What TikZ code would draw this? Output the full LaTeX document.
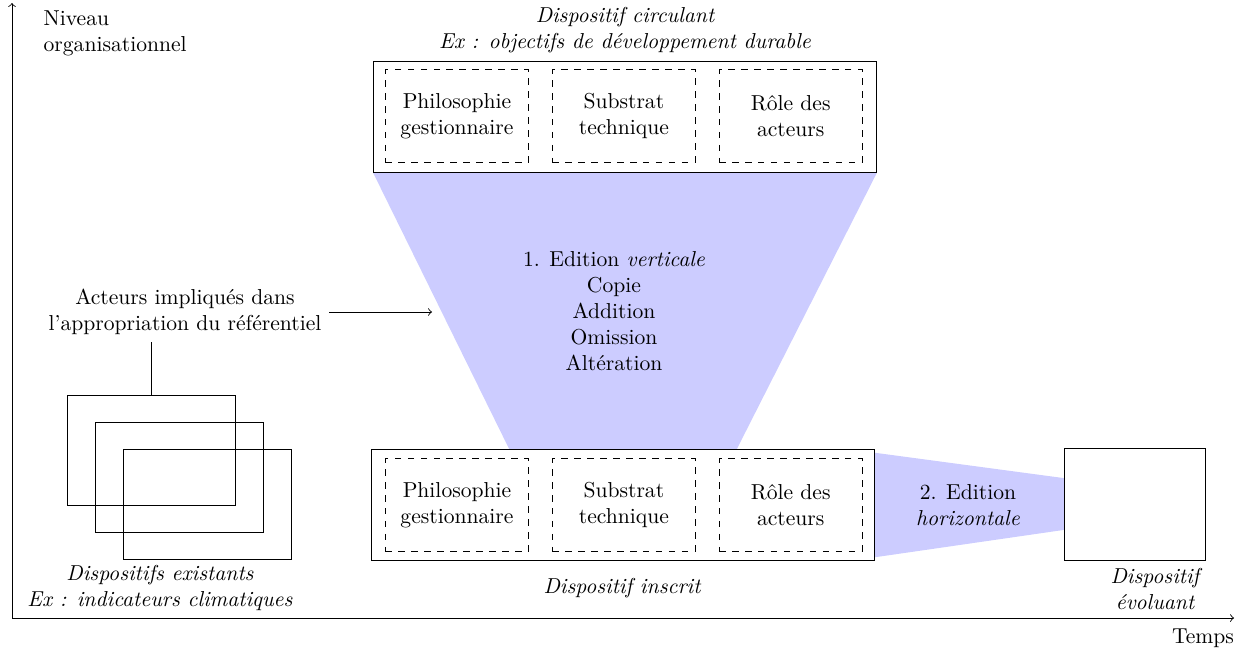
\documentclass[tikz,border=0pt]{standalone}
\usepackage{fontspec}
\usepackage{tikz}
\usetikzlibrary{positioning,backgrounds}

\tikzset{
  outerbox/.style={draw, minimum width=8.18cm, minimum height=1.8cm},
  part/.style={draw, dashed, align=center, minimum width=2.33cm, minimum height=1.5cm},
  oldbox/.style={draw, minimum width=2.72cm, minimum height=1.79cm},
  edition/.style={fill=blue!20},
  caption/.style={align=center, font=\itshape}
}

\begin{document}
\begin{tikzpicture}[x=0.01627cm, y=-0.01627cm]
      \useasboundingbox (0,0) rectangle (1236,654);
      %% Axes
      \coordinate (o) at (12,618);
      \coordinate (ytop) at (12,3);
      \coordinate (xend) at (1234,618);
      \draw[->] (o) -- (ytop);
      \draw[->] (o) -- (xend);
      \node[anchor=west, align=left] (niveau) at (36,33) {Niveau\\organisationnel};
      \node (temps) at (1203,638) {Temps};
      %% Dispositif circulant
      \node[caption] (circlbl) at (625,30) {Dispositif circulant\\Ex : objectifs de développement durable};
      \node[outerbox] (circ) at (625,117) {};
      \node[part] (c1) at (457,116) {Philosophie\\gestionnaire};
      \node[part, right=0.37cm of c1] (c2) {Substrat\\technique};
      \node[part, right=0.37cm of c2] (c3) {Rôle des\\acteurs};
      %% Dispositif inscrit
      \node[outerbox] (inscrit) at (623,505) {};
      \node[part] (i1) at (457,505) {Philosophie\\gestionnaire};
      \node[part, right=0.37cm of i1] (i2) {Substrat\\technique};
      \node[part, right=0.37cm of i2] (i3) {Rôle des\\acteurs};
      \node[caption] (inslbl) at (622,588) {Dispositif inscrit};
      %% Dispositif evoluant
      \node[draw, minimum width=2.28cm, minimum height=1.82cm] (evol) at (1135,504) {};
      \node[caption] (evollbl) at (1155,589) {Dispositif\\évoluant};
      %% Editions
      \begin{scope}[on background layer]
        \fill[edition] (circ.south west) -- (circ.south east)
          -- ([xshift=1.85cm]inscrit.north) -- ([xshift=-1.85cm]inscrit.north) -- cycle;
        \fill[edition] ([yshift=0.85cm]inscrit.east) -- ([yshift=0.42cm]evol.west)
          -- ([yshift=-0.42cm]evol.west) -- ([yshift=-0.85cm]inscrit.east) -- cycle;
      \end{scope}
      \node[align=center] (vert) at (614,311) {1. Edition \textit{verticale}\\Copie\\Addition\\Omission\\Altération};
      \node[align=center] (horiz) at (968,505) {2. Edition\\\textit{horizontale}};
      %% Dispositifs existants
      \node[oldbox] (e1) at (151.5,450) {};
      \node[oldbox] (e2) at (179.5,477) {};
      \node[oldbox] (e3) at (207.5,504.5) {};
      \node[caption] (exlbl) at (160,588) {Dispositifs existants\\Ex : indicateurs climatiques};
      %% Acteurs
      \node[align=center] (acteurs) at (185,312) {Acteurs impliqués dans\\l'appropriation du référentiel};
      \coordinate (acteursend) at (432,312);
      \draw[->] (acteurs.east) -- (acteursend);
      \draw (acteurs.south -| e1.north) -- (e1.north);
    \end{tikzpicture}
\end{document}
